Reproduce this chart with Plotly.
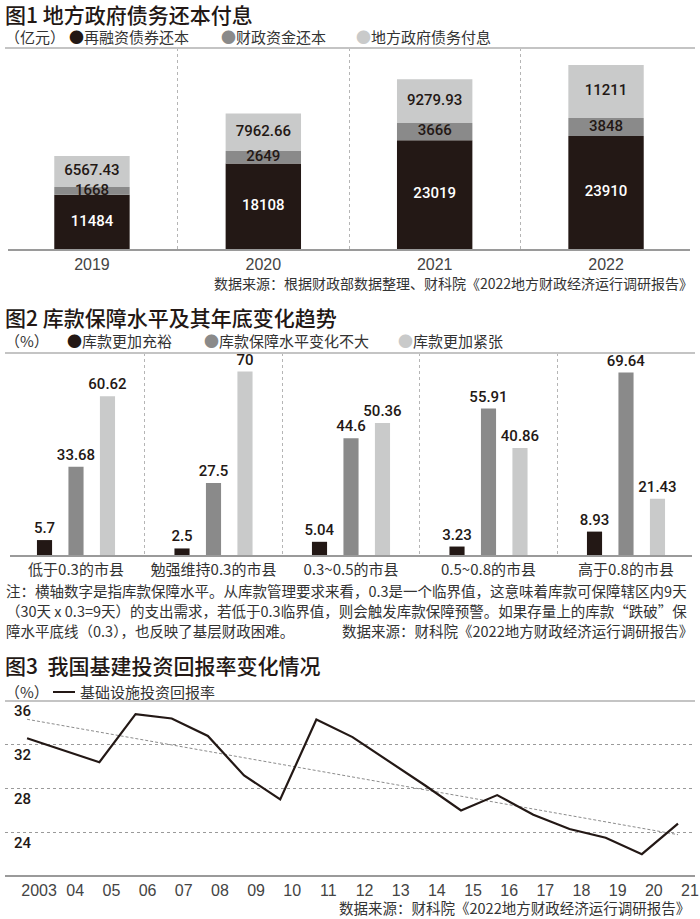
import numpy as np
import plotly.graph_objects as go

W, H = 700, 919

# ---------------- Data ----------------
# Chart 1: local government debt principal & interest (100 million yuan)
years1 = ["2019", "2020", "2021", "2022"]
refinance = [11484, 18108, 23019, 23910]
fiscal = [1668, 2649, 3666, 3848]
interest = [6567.43, 7962.66, 9279.93, 11211]
names1 = ["再融资债券还本", "财政资金还本", "地方政府债务付息"]

# Chart 2: treasury guarantee level (%)
cats2 = ["低于0.3的市县", "勉强维持0.3的市县", "0.3~0.5的市县", "0.5~0.8的市县", "高于0.8的市县"]
ample = [5.7, 2.5, 5.04, 3.23, 8.93]
stable = [33.68, 27.5, 44.6, 55.91, 69.64]
tight = [60.62, 70, 50.36, 40.86, 21.43]
names2 = ["库款更加充裕", "库款保障水平变化不大", "库款更加紧张"]

# Chart 3: infrastructure investment return rate (%)
years3 = list(range(2003, 2022))
ticks3 = ["2003", "04", "05", "06", "07", "08", "09", "10", "11", "12",
          "13", "14", "15", "16", "17", "18", "19", "20", "21"]
returns = [32.6, 31.5, 30.4, 34.8, 34.4, 32.8, 29.2, 27.0, 34.3, 32.7,
           30.5, 28.3, 26.0, 27.4, 25.6, 24.3, 23.5, 22.0, 24.8]
name3 = "基础设施投资回报率"

# ---------------- Style ----------------
C_DARK = "#231815"
C_MID = "#8a8a8a"
C_LIGHT = "#c9caca"
TXT = "#333333"
CJK = "Noto Sans CJK SC"
NUM = "Roboto, Liberation Sans, sans-serif"
AXF = "Liberation Sans, Arial, sans-serif"


def py(p):
    return 1 - p / H


def px(p):
    return p / W


fmt = lambda v: f"{v:g}"
fig = go.Figure()

# ---- Chart 1: stacked bars ----
bases = [[0] * len(refinance), list(refinance), [a + b for a, b in zip(refinance, fiscal)]]
series1 = [(refinance, C_DARK, "white", names1[0]),
           (fiscal, C_MID, C_DARK, names1[1]),
           (interest, C_LIGHT, C_DARK, names1[2])]
for (vals, col, tcol, nm), base in zip(series1, bases):
    fig.add_trace(go.Bar(
        x=years1, y=vals, base=base, name=nm, marker=dict(color=col, line=dict(width=0)),
        width=0.44, xaxis="x", yaxis="y", showlegend=False,
    ))
# segment labels on top of all bars
for (vals, col, tcol, nm), base in zip(series1, bases):
    fig.add_trace(go.Scatter(
        x=years1, y=[b + v / 2 for b, v in zip(base, vals)], mode="text",
        text=[fmt(v) for v in vals], textposition="middle center",
        textfont=dict(family=NUM, size=15, color=tcol, weight=500),
        xaxis="x", yaxis="y", showlegend=False, hoverinfo="skip",
    ))

# ---- Chart 2: grouped bars ----
bw = 0.11
gap = 0.229
for vals, off, col, nm in [
    (ample, -gap - bw / 2, C_DARK, names2[0]),
    (stable, -bw / 2, C_MID, names2[1]),
    (tight, gap - bw / 2, C_LIGHT, names2[2]),
]:
    fig.add_trace(go.Bar(
        x=cats2, y=vals, name=nm, width=bw, offset=off,
        marker=dict(color=col, line=dict(width=0)),
        text=[fmt(v) for v in vals], texttemplate="%{text}",
        textposition="outside", constraintext="none", cliponaxis=False,
        textfont=dict(family=NUM, size=15, color=C_DARK, weight=500),
        xaxis="x2", yaxis="y2", showlegend=False,
    ))

# ---- Chart 3: line + trend ----
coef = np.polyfit(years3, returns, 1)
trend = np.polyval(coef, years3)
fig.add_trace(go.Scatter(
    x=years3, y=trend, mode="lines", line=dict(color="#8c8c8c", width=1, dash="3px,2px"),
    xaxis="x3", yaxis="y3", showlegend=False, hoverinfo="skip",
))
fig.add_trace(go.Scatter(
    x=years3, y=returns, mode="lines", name=name3,
    line=dict(color=C_DARK, width=2.2),
    xaxis="x3", yaxis="y3", showlegend=False,
))

# ---------------- Axes ----------------
cat_x_common = dict(
    type="category", tickson="boundaries", showgrid=True, griddash="dot",
    gridcolor="#b5b5b5", gridwidth=1, ticks="", showline=True, linecolor="#9a9a9a",
    linewidth=1.5, zeroline=False, fixedrange=True, automargin=False,
)
fig.update_layout(
    width=W, height=H, margin=dict(l=0, r=0, t=0, b=0, autoexpand=False),
    paper_bgcolor="white", plot_bgcolor="white", barmode="overlay",
    xaxis=dict(domain=[px(8), px(690)], range=[-0.49, 3.49], anchor="y",
               tickfont=dict(family=AXF, size=16, color="#444"), **cat_x_common),
    yaxis=dict(domain=[py(249), py(48)], range=[0, 42570], anchor="x", automargin=False,
               showgrid=False, showticklabels=False, zeroline=False, showline=False),
    xaxis2=dict(domain=[px(10), px(692)], range=[-0.48, 4.48], anchor="y2",
                tickfont=dict(family=CJK, size=15, color=TXT), **cat_x_common),
    yaxis2=dict(domain=[py(555), py(353)], range=[0, 77.1], anchor="x2", automargin=False,
                showgrid=False, showticklabels=False, zeroline=False, showline=False),
    xaxis3=dict(domain=[px(5), px(695)], range=[2002.39, 2021.47], anchor="y3",
                tickvals=years3, ticktext=ticks3, ticks="", showgrid=False, automargin=False,
                showline=True, linecolor="#9a9a9a", linewidth=1.5, zeroline=False,
                ticklabelshift=12,
                tickfont=dict(family=AXF, size=16, color="#444")),
    yaxis3=dict(domain=[py(875), py(701)], range=[20.1, 36], anchor="free",
                position=px(31), automargin=False,
                tickvals=[24, 28, 32, 36], showgrid=True, griddash="dot",
                gridcolor="#9a9a9a", gridwidth=1, zeroline=False, showline=False,
                ticks="", ticklabelshift=10,
                tickfont=dict(family=NUM, size=15, color=C_DARK, weight=500)),
)

# ---------------- Shapes (top rules, legend line) ----------------
shapes = []
for y in (48, 353, 701):
    shapes.append(dict(type="line", xref="paper", yref="paper", x0=px(5), x1=px(695),
                       y0=py(y), y1=py(y), line=dict(color="#c4c4c4", width=2)))
shapes.append(dict(type="line", xref="paper", yref="paper", x0=px(53), x1=px(75),
                   y0=py(692), y1=py(692), line=dict(color=C_DARK, width=2)))
fig.update_layout(shapes=shapes)

# ---------------- Annotations ----------------
ann = []


def text(x, y, s, size=15, color=TXT, anchor="left", family=CJK, weight="normal"):
    ann.append(dict(x=px(x), y=py(y), xref="paper", yref="paper", text=s, showarrow=False,
                    xanchor=anchor, yanchor="middle", align=anchor,
                    font=dict(family=family, size=size, color=color, weight=weight)))


def dot(c):
    return f"<span style='color:{c}'>●</span>"


# Chart 1 header
text(3, 14, "图1 地方政府债务还本付息", size=21, color=C_DARK, weight=500)
text(3, 37, "（亿元）", size=15)
text(67, 37, dot(C_DARK) + names1[0])
text(219, 37, dot(C_MID) + names1[1])
text(354, 37, dot(C_LIGHT) + names1[2])
text(695, 283, "数据来源：根据财政部数据整理、财科院《2022地方财政经济运行调研报告》", size=14, anchor="right")

# Chart 2 header
text(3, 317, "图2 库款保障水平及其年底变化趋势", size=21, color=C_DARK, weight=500)
text(3, 340, "（%）", size=15)
text(65, 340, dot(C_DARK) + names2[0])
text(202, 340, dot(C_MID) + names2[1])
text(396, 340, dot(C_LIGHT) + names2[2])
text(4, 590, "注：横轴数字是指库款保障水平。从库款管理要求来看，0.3是一个临界值，这意味着库款可保障辖区内9天", size=14.5)
text(4, 610, "（30天 x 0.3=9天）的支出需求，若低于0.3临界值，则会触发库款保障预警。如果存量上的库款“跌破”保", size=14.5)
text(4, 630, "障水平底线（0.3），也反映了基层财政困难。", size=14.5)
text(695, 630, "数据来源：财科院《2022地方财政经济运行调研报告》", size=14.5, anchor="right")

# Chart 3 header
text(3, 665, "图3  我国基建投资回报率变化情况", size=21, color=C_DARK, weight=500)
text(3, 691, "（%）", size=15)
text(78, 691, name3, size=15)
text(692, 907, "数据来源：财科院《2022地方财政经济运行调研报告》", size=14.5, anchor="right")

fig.update_layout(annotations=ann)

fig.write_html("out.html")
